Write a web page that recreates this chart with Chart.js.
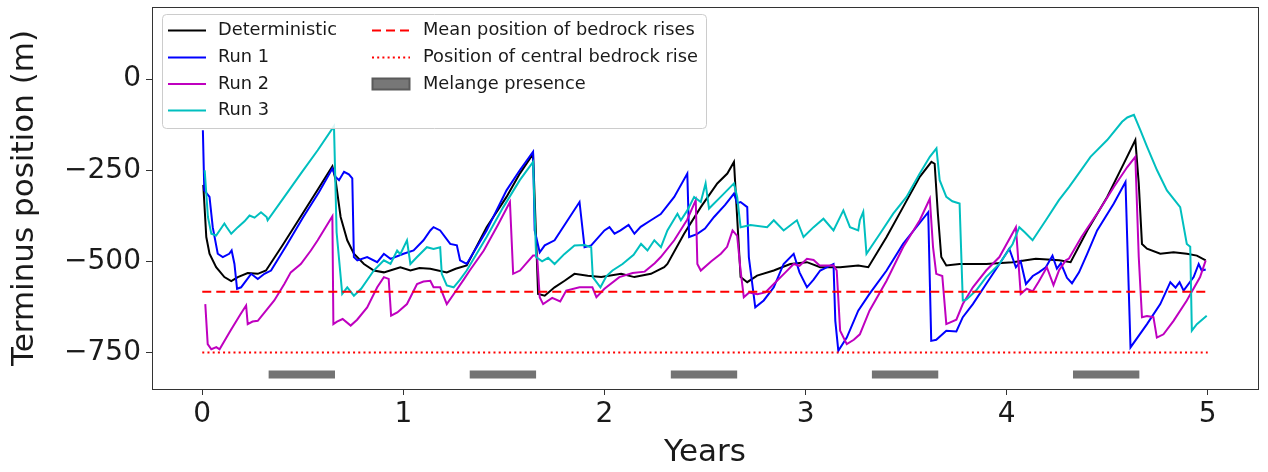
<!DOCTYPE html>
<html>
<head>
<meta charset="utf-8">
<title>Terminus position</title>
<script src="https://cdn.jsdelivr.net/npm/chart.js@4.4.0/dist/chart.umd.min.js"></script>
<style>
  html, body { margin: 0; padding: 0; background: #fff; }
  #wrap { width: 1268px; height: 472px; }
</style>
</head>
<body>
<div id="wrap"><canvas id="terminusChart" width="1268" height="472"></canvas></div>
<script>
/* Terminus position over 5 years: deterministic run, three stochastic runs,
   bedrock rise reference lines and melange periods. */

// --- deterministic run ---
const detT = [0.005, 0.02, 0.036, 0.069, 0.11, 0.144, 0.177, 0.226, 0.276, 0.317, 0.40, 0.50, 0.58, 0.647,
  0.663, 0.688, 0.721, 0.754, 0.804, 0.853, 0.903, 0.95, 0.985, 1.035, 1.08, 1.134, 1.216, 1.26, 1.315,
  1.414, 1.513, 1.579, 1.645, 1.67, 1.703, 1.752, 1.802, 1.851, 1.917, 1.984, 2.083, 2.149, 2.231, 2.297,
  2.313, 2.396, 2.479, 2.561, 2.611, 2.644, 2.677, 2.71, 2.759, 2.842, 2.924, 3.007, 3.073, 3.172, 3.262,
  3.312, 3.403, 3.485, 3.568, 3.626, 3.642, 3.658, 3.675, 3.70, 3.766, 3.898, 4.03, 4.145, 4.261, 4.318,
  4.401, 4.5, 4.583, 4.64, 4.657, 4.673, 4.698, 4.764, 4.83, 4.896, 4.946, 4.99];
const detV = [-290, -433, -479, -516, -543, -554, -543, -532, -534, -525, -455, -368, -298, -239,
  -277, -378, -442, -479, -507, -525, -530, -522, -516, -525, -518, -520, -530, -520, -511,
  -406, -323, -259, -205, -589, -594, -571, -553, -534, -539, -543, -534, -543, -534, -516,
  -507, -424, -351, -286, -259, -227, -543, -557, -539, -525, -507, -502, -516, -516, -511,
  -516, -433, -351, -268, -227, -232, -369, -488, -511, -507, -507, -502, -493, -497, -502,
  -415, -323, -231, -167, -286, -452, -465, -479, -475, -479, -484, -497];

// --- run 1 ---
const run1T = [0.003, 0.01, 0.036, 0.052, 0.077, 0.102, 0.134, 0.146, 0.16, 0.173, 0.193, 0.243, 0.276, 0.309,
  0.342, 0.42, 0.50, 0.58, 0.647, 0.663, 0.68, 0.705, 0.729, 0.746, 0.754, 0.771, 0.82, 0.87, 0.903, 0.936,
  1.001, 1.051, 1.10, 1.134, 1.15, 1.183, 1.233, 1.266, 1.282, 1.315, 1.414, 1.513, 1.579, 1.645, 1.653,
  1.678, 1.703, 1.752, 1.876, 1.901, 1.934, 2.0, 2.025, 2.05, 2.08, 2.12, 2.149, 2.18, 2.231, 2.28, 2.347,
  2.412, 2.421, 2.46, 2.5, 2.545, 2.6, 2.644, 2.66, 2.677, 2.71, 2.718, 2.75, 2.792, 2.842, 2.891, 2.941,
  2.97, 3.007, 3.04, 3.073, 3.139, 3.148, 3.163, 3.205, 3.262, 3.318, 3.403, 3.485, 3.61, 3.625, 3.65, 3.7,
  3.75, 3.782, 3.832, 3.898, 3.964, 4.013, 4.046, 4.07, 4.096, 4.13, 4.16, 4.195, 4.228, 4.25, 4.27, 4.30,
  4.325, 4.36, 4.40, 4.45, 4.533, 4.591, 4.616, 4.698, 4.764, 4.814, 4.84, 4.86, 4.88, 4.93, 4.955, 4.97, 4.99];
const run1V = [-140, -305, -323, -406, -479, -488, -479, -470, -507, -575, -571, -534, -548, -534,
  -525, -455, -380, -310, -245, -268, -277, -254, -261, -272, -488, -497, -488, -502, -479, -493,
  -479, -470, -442, -415, -406, -415, -452, -456, -497, -507, -415, -305, -250, -199, -415,
  -475, -456, -442, -337, -461, -456, -415, -406, -424, -415, -400, -424, -405, -387, -370, -323,
  -259, -433, -425, -410, -378, -345, -314, -340, -337, -351, -488, -626, -607, -571, -507, -479,
  -530, -571, -550, -525, -507, -663, -745, -709, -635, -589, -525, -452, -365, -718, -715, -690,
  -692, -653, -617, -562, -507, -465, -516, -500, -562, -540, -530, -516, -484, -520, -505, -545,
  -560, -530, -480, -415, -341, -282, -736, -672, -617, -557, -572, -557, -580, -543, -507, -525, -522];

// --- run 2 ---
const run2T = [0.015, 0.027, 0.045, 0.07, 0.086, 0.14, 0.19, 0.218, 0.226, 0.25, 0.276, 0.31, 0.358, 0.408,
  0.44, 0.49, 0.54, 0.574, 0.647, 0.652, 0.67, 0.698, 0.738, 0.77, 0.82, 0.87, 0.903, 0.927, 0.939, 0.97,
  1.018, 1.068, 1.1, 1.134, 1.15, 1.183, 1.216, 1.25, 1.30, 1.33, 1.40, 1.47, 1.53, 1.546, 1.58, 1.645,
  1.665, 1.678, 1.695, 1.74, 1.78, 1.81, 1.876, 1.94, 1.96, 2.0, 2.074, 2.14, 2.2, 2.25, 2.28, 2.347,
  2.412, 2.454, 2.462, 2.479, 2.53, 2.579, 2.61, 2.637, 2.66, 2.677, 2.693, 2.72, 2.76, 2.80, 2.842, 2.90,
  2.941, 2.97, 3.007, 3.04, 3.07, 3.139, 3.155, 3.172, 3.205, 3.24, 3.27, 3.318, 3.403, 3.485, 3.568,
  3.618, 3.634, 3.65, 3.68, 3.7, 3.75, 3.782, 3.832, 3.898, 3.964, 4.046, 4.07, 4.10, 4.13, 4.16, 4.2,
  4.233, 4.26, 4.294, 4.31, 4.372, 4.45, 4.533, 4.6, 4.64, 4.657, 4.673, 4.698, 4.73, 4.747, 4.78, 4.83,
  4.896, 4.962, 4.99];
const run2V = [-617, -727, -741, -735, -741, -690, -645, -621, -672, -665, -663, -640, -607, -562,
  -530, -507, -470, -442, -376, -672, -665, -658, -676, -660, -626, -571, -543, -548, -649, -640,
  -617, -562, -555, -553, -571, -571, -617, -590, -550, -525, -470, -400, -337, -534, -525, -484,
  -484, -598, -617, -600, -610, -580, -571, -571, -598, -575, -543, -532, -528, -505, -488, -442,
  -385, -332, -507, -525, -500, -479, -460, -415, -430, -525, -598, -585, -590, -585, -562, -530,
  -507, -512, -493, -496, -511, -511, -525, -690, -727, -715, -700, -635, -553, -461, -387,
  -328, -461, -534, -540, -672, -660, -617, -571, -525, -488, -406, -589, -575, -582, -555, -516,
  -565, -525, -497, -492, -433, -369, -296, -241, -213, -488, -653, -650, -653, -709, -700, -663,
  -607, -543, -497];

// --- run 3 ---
const run3T = [0.012, 0.028, 0.045, 0.069, 0.11, 0.12, 0.144, 0.177, 0.21, 0.235, 0.26, 0.292, 0.32, 0.325,
  0.408, 0.49, 0.574, 0.655, 0.668, 0.696, 0.721, 0.754, 0.79, 0.853, 0.903, 0.936, 0.969, 0.985, 1.018,
  1.035, 1.068, 1.117, 1.15, 1.183, 1.191, 1.216, 1.25, 1.282, 1.315, 1.414, 1.497, 1.579, 1.645, 1.66,
  1.69, 1.72, 1.752, 1.80, 1.851, 1.90, 1.934, 1.942, 1.98, 2.01, 2.04, 2.09, 2.145, 2.182, 2.214, 2.248,
  2.281, 2.313, 2.363, 2.38, 2.412, 2.446, 2.479, 2.503, 2.52, 2.578, 2.644, 2.66, 2.677, 2.726, 2.809,
  2.842, 2.891, 2.957, 2.99, 3.04, 3.089, 3.139, 3.188, 3.221, 3.262, 3.27, 3.287, 3.303, 3.37, 3.436,
  3.502, 3.568, 3.618, 3.651, 3.667, 3.70, 3.73, 3.766, 3.782, 3.80, 3.848, 3.898, 3.964, 4.03, 4.063,
  4.09, 4.129, 4.195, 4.26, 4.31, 4.335, 4.417, 4.5, 4.574, 4.6, 4.633, 4.665, 4.698, 4.748, 4.797, 4.863,
  4.896, 4.913, 4.921, 4.946, 4.995];
const run3V = [-250, -378, -424, -429, -396, -405, -424, -406, -390, -374, -380, -365, -378, -387,
  -323, -259, -195, -129, -420, -589, -571, -594, -575, -525, -497, -507, -470, -480, -442,
  -507, -488, -461, -466, -461, -534, -566, -571, -550, -525, -433, -351, -277, -227, -488,
  -500, -490, -507, -480, -456, -455, -461, -543, -571, -540, -525, -507, -482, -452, -470, -442,
  -461, -415, -369, -387, -360, -323, -337, -286, -355, -323, -286, -323, -406, -400, -406,
  -387, -415, -387, -433, -406, -383, -415, -360, -406, -415, -387, -364, -479, -424, -369,
  -323, -259, -213, -190, -277, -323, -335, -341, -607, -605, -580, -543, -507, -452, -406,
  -420, -442, -387, -332, -296, -277, -213, -167, -117, -105, -98, -140, -185, -250, -305, -351,
  -452, -460, -690, -672, -649];

// --- bedrock rises and melange ---
const riseSpan = [0, 5];
const meanRisePos = -583;
const centralRisePos = -750;
const melangeStart = [0.33, 1.33, 2.33, 3.33, 4.33];
const melangeEnd = [0.66, 1.66, 2.66, 3.66, 4.66];
const melangeLevel = -810;

// --- axes ---
const xTicks = [0, 1, 2, 3, 4, 5];
const yTicks = [-750, -500, -250, 0];

const FONT = "'DejaVu Sans', sans-serif";
const INK = '#1a1a1a';

function toPoints(t, v) {
  return t.map((x, i) => ({ x: x, y: v[i] }));
}

function flatLine(span, level) {
  return span.map(x => ({ x: x, y: level }));
}

// each melange period is one short thick segment, separated by gaps
function melangeSegments() {
  const out = [];
  melangeStart.forEach((s, i) => {
    out.push({ x: s, y: melangeLevel }, { x: melangeEnd[i], y: melangeLevel }, { x: melangeEnd[i], y: null });
  });
  return out;
}

const lineBase = { showLine: true, pointRadius: 0, borderWidth: 2, tension: 0, fill: false };

const datasets = [
  { ...lineBase, label: 'Deterministic', data: toPoints(detT, detV), borderColor: '#000000', order: 5 },
  { ...lineBase, label: 'Run 1', data: toPoints(run1T, run1V), borderColor: '#0000ff', order: 4 },
  { ...lineBase, label: 'Run 2', data: toPoints(run2T, run2V), borderColor: '#bf00bf', order: 3 },
  { ...lineBase, label: 'Run 3', data: toPoints(run3T, run3V), borderColor: '#00bfbf', order: 2 },
  { ...lineBase, label: 'Mean position of bedrock rises', data: flatLine(riseSpan, meanRisePos),
    borderColor: '#ff0000', borderDash: [9, 5], order: 1 },
  { ...lineBase, label: 'Position of central bedrock rise', data: flatLine(riseSpan, centralRisePos),
    borderColor: '#ff0000', borderDash: [2, 3.2], order: 0 },
  { ...lineBase, label: 'Melange presence', data: melangeSegments(), borderColor: '#737373',
    borderWidth: 8, borderCapStyle: 'butt', spanGaps: false, order: 6 },
];

/* Axes frame on all four sides */
const framePlugin = {
  id: 'frame',
  afterDatasetsDraw(chart) {
    const { ctx, chartArea: a } = chart;
    ctx.save();
    ctx.strokeStyle = '#333';
    ctx.lineWidth = 1;
    ctx.strokeRect(Math.round(a.left) + 0.5, Math.round(a.top) + 0.5,
      Math.round(a.right - a.left), Math.round(a.bottom - a.top));
    ctx.restore();
  }
};

/* Two-column legend inside the upper-left corner of the plot */
const legendPlugin = {
  id: 'innerLegend',
  afterDraw(chart) {
    const ctx = chart.ctx;
    const ds = chart.data.datasets;
    const box = { x: 162.5, y: 14.5, w: 544, h: 114 };
    const rows = [30.5, 57.5, 84, 110.5];
    const cols = [{ hx: 168, tx: 218 }, { hx: 372, tx: 423 }];
    const handleLen = 38;

    ctx.save();
    ctx.beginPath();
    ctx.roundRect(box.x, box.y, box.w, box.h, 4);
    ctx.fillStyle = 'rgba(255,255,255,0.85)';
    ctx.fill();
    ctx.strokeStyle = '#cccccc';
    ctx.lineWidth = 1;
    ctx.stroke();

    ctx.font = '17.8px ' + FONT;
    ctx.textBaseline = 'middle';
    ctx.fillStyle = INK;

    ds.forEach((d, i) => {
      const col = cols[i < 4 ? 0 : 1];
      const y = rows[i < 4 ? i : i - 4];
      if (d.label === 'Melange presence') {
        ctx.fillStyle = '#777777';
        ctx.fillRect(col.hx, y - 6, handleLen, 12);
        ctx.strokeStyle = '#5a5a5a';
        ctx.strokeRect(col.hx + 0.5, y - 5.5, handleLen - 1, 11);
      } else {
        ctx.beginPath();
        ctx.setLineDash(d.borderDash || []);
        ctx.strokeStyle = d.borderColor;
        ctx.lineWidth = 2;
        ctx.moveTo(col.hx, y);
        ctx.lineTo(col.hx + handleLen, y);
        ctx.stroke();
        ctx.setLineDash([]);
      }
      ctx.fillStyle = INK;
      ctx.fillText(d.label, col.tx, y);
    });
    ctx.restore();
  }
};

new Chart(document.getElementById('terminusChart'), {
  type: 'scatter',
  data: { datasets },
  options: {
    responsive: false,
    animation: false,
    layout: { padding: { top: 7, right: 10, left: 0, bottom: 0 } },
    plugins: {
      legend: { display: false },
      tooltip: { enabled: false },
    },
    scales: {
      x: {
        type: 'linear',
        min: -0.25,
        max: 5.25,
        afterBuildTicks: s => { s.ticks = xTicks.map(v => ({ value: v })); },
        afterFit: s => { s.height = 83; s.paddingLeft = 0; s.paddingRight = 0; },
        ticks: { font: { family: FONT, size: 28 }, color: INK, padding: 3, maxRotation: 0 },
        grid: { display: true, drawOnChartArea: false, drawTicks: true, tickLength: 6, tickColor: '#333' },
        border: { display: false },
        title: { display: true, text: 'Years', font: { family: FONT, size: 31 }, color: INK,
          padding: { top: 0, bottom: 0 } },
      },
      y: {
        type: 'linear',
        min: -850,
        max: 198,
        afterBuildTicks: s => { s.ticks = yTicks.map(v => ({ value: v })); },
        afterFit: s => { s.width = 152; s.paddingTop = 0; s.paddingBottom = 0; },
        ticks: {
          font: { family: FONT, size: 28 }, color: INK, padding: 5,
          callback: v => (v < 0 ? '\u2212' + Math.abs(v) : String(v)),
        },
        grid: { display: true, drawOnChartArea: false, drawTicks: true, tickLength: 6, tickColor: '#333' },
        border: { display: false },
        title: { display: true, text: 'Terminus position (m)', font: { family: FONT, size: 31 }, color: INK,
          padding: { top: 6, bottom: 0 } },
      },
    },
  },
  plugins: [framePlugin, legendPlugin],
});
</script>
</body>
</html>
